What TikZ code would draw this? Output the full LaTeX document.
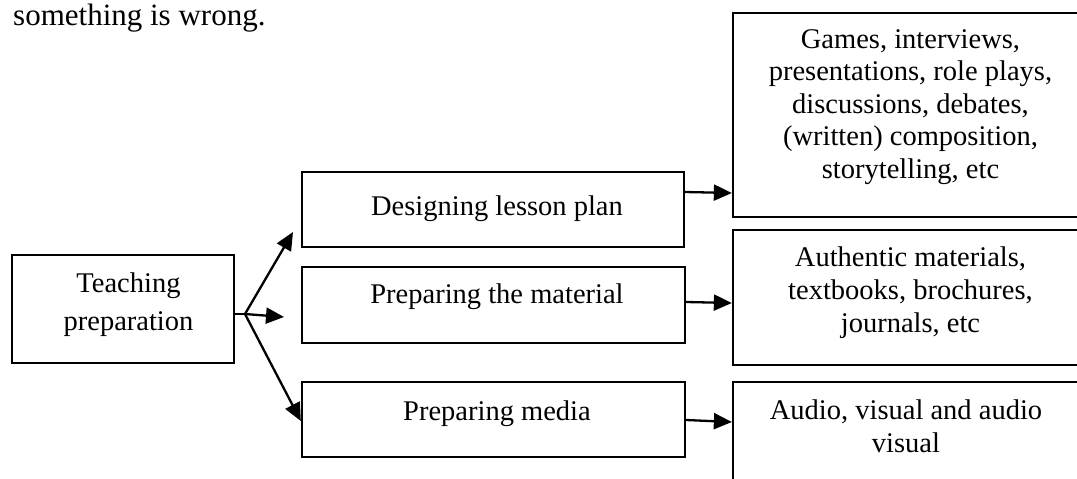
\documentclass[tikz,border=0pt]{standalone}
\usepackage{fontspec}
\setmainfont{Liberation Serif}
\usetikzlibrary{arrows.meta}
\tikzset{
  box/.style={draw, line width=2.3pt, rectangle, inner sep=0pt},
  txt/.style={anchor=base, align=center, inner sep=0pt, font=\fontsize{28.5}{32.5}\selectfont},
  arr/.style={line width=2.3pt, -{Triangle[length=18pt,width=16pt]}},
  ln/.style={line width=2.3pt}
}
\begin{document}
\begin{tikzpicture}[x=1pt,y=-1pt]
\useasboundingbox (0,0) rectangle (1077,479);
\clip (0,0) rectangle (1077,479);
% top fragment
\node[txt, anchor=base west, font=\fontsize{31}{36}\selectfont] (frag) at (13,25) {something is wrong.};
% boxes
\node[box, minimum width=382pt, minimum height=75pt] (design) at (493,209.5) {};
\node[box, minimum width=222pt, minimum height=108pt] (teach) at (123,309) {};
\node[box, minimum width=383pt, minimum height=76pt] (material) at (493.5,305) {};
\node[box, minimum width=383pt, minimum height=75pt] (media) at (493.5,419.5) {};
\node[box, minimum width=355pt, minimum height=204pt] (games) at (910.5,114.7) {};
\node[box, minimum width=355pt, minimum height=135pt] (auth) at (910.5,297.5) {};
\node[box, minimum width=355pt, minimum height=130pt] (audio) at (910.5,447) {};
% texts
\node[txt, font=\fontsize{28.5}{38}\selectfont] (teachT) at (128.5,330) {Teaching\\preparation};
\node[txt] (designT) at (497,215) {Designing lesson plan};
\node[txt] (materialT) at (497,303) {Preparing the material};
\node[txt] (mediaT) at (497,420) {Preparing media};
\node[txt] (gamesT) at (910.5,178) {Games, interviews,\\presentations, role plays,\\discussions, debates,\\(written) composition,\\storytelling, etc};
\node[txt, font=\fontsize{28.5}{33}\selectfont] (authT) at (910.5,332) {Authentic materials,\\textbooks, brochures,\\journals, etc};
\node[txt, font=\fontsize{28.5}{33}\selectfont] (audioT) at (906,452) {Audio, visual and audio\\visual};
% connectors
\coordinate (j) at (245,314);
\draw[ln] (teach.east |- j) -- (j);
\draw[arr] (j) -- (293,232);
\draw[arr] (j) -- (284,317);
\draw[arr] (j) -- (media.west |- 0,421);
\draw[arr] (design.east |- 0,192) -- (games.west |- 0,193);
\draw[arr] (material.east |- 0,302) -- (auth.west |- 0,303);
\draw[arr] (media.east |- 0,420) -- (audio.west |- 0,422);
\end{tikzpicture}
\end{document}
